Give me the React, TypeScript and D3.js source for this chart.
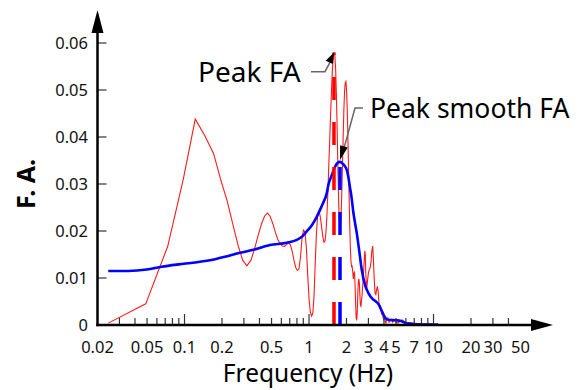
import React from "react";
import * as d3 from "d3";

// ---- data ----
const faFreq = [0.0244,0.0488,0.0732,0.0977,0.122,0.146,0.171,0.195,0.22,0.244,0.269,0.293,0.317,0.342,0.366,0.39,0.415,0.44,0.464,0.488,0.513,0.537,0.562,0.586,0.61,0.635,0.659,0.684,0.708,0.732,0.757,0.781,0.806,0.83,0.855,0.879,0.903,0.928,0.952,0.977,1.001,1.025,1.05,1.074,1.099,1.123,1.147,1.172,1.196,1.221,1.245,1.27,1.294,1.318,1.343,1.367,1.392,1.416,1.44,1.465,1.489,1.514,1.538,1.562,1.587,1.611,1.636,1.66,1.685,1.709,1.733,1.758,1.782,1.807,1.831,1.855,1.88,1.904,1.929,1.953,1.978,2.002,2.026,2.051,2.075,2.1,2.124,2.148,2.173,2.197,2.222,2.246,2.271,2.295,2.32,2.344,2.368,2.393,2.417,2.442,2.466,2.49,2.515,2.539,2.564,2.588,2.612,2.661,2.71,2.759,2.808,2.832,2.856,2.905,2.954,3.003,3.052,3.1,3.149,3.198,3.247,3.296,3.344,3.393,3.442,3.491,3.54,3.589,3.638,3.687,3.735,3.784,3.833,3.882,3.93,3.98,4.03,4.08,4.15,4.2,4.3,4.4,4.5,4.6,4.7,4.8,4.9,5.0,5.2,5.4,5.6,5.8,6.0,6.5,7.0,8.0,9.0,10.0];
const faValue = [0.0004,0.0045,0.0167,0.031,0.0438,0.0402,0.0365,0.031,0.0264,0.0215,0.017,0.0138,0.0126,0.0138,0.0163,0.019,0.0215,0.0232,0.0238,0.0231,0.0215,0.0197,0.0182,0.0173,0.0168,0.0167,0.0171,0.0175,0.0171,0.0157,0.0138,0.0123,0.0116,0.0119,0.0145,0.0185,0.0202,0.0198,0.0165,0.0105,0.0055,0.0027,0.0019,0.0026,0.0065,0.0135,0.0195,0.0232,0.0241,0.0236,0.0222,0.0203,0.0186,0.0176,0.0178,0.0196,0.0232,0.028,0.0335,0.039,0.0445,0.0495,0.0538,0.0568,0.058,0.0575,0.0545,0.0488,0.041,0.0325,0.0255,0.0215,0.0205,0.0228,0.0275,0.0335,0.0398,0.0455,0.0495,0.0515,0.0518,0.05,0.0462,0.0405,0.0338,0.0272,0.0212,0.0165,0.0135,0.0124,0.0125,0.0112,0.0098,0.011,0.0112,0.0085,0.0045,0.0015,0.001,0.003,0.0068,0.0092,0.0098,0.0088,0.0062,0.0042,0.004,0.006,0.009,0.0125,0.0158,0.015,0.011,0.0078,0.0095,0.0112,0.0118,0.0122,0.0135,0.0158,0.0168,0.0135,0.0095,0.0068,0.0065,0.0075,0.0082,0.0072,0.005,0.0036,0.0042,0.0035,0.0022,0.0028,0.0016,0.0012,0.0019,0.0009,0.0004,0.0011,0.0015,0.0006,0.001,0.0012,0.0006,0.0009,0.0011,0.0005,0.0004,0.0009,0.0011,0.0006,0.0004,0.0005,0.0003,0.0002,0.0002,0.0001,0.0001];

const smoothFreq = [0.0244,0.0354,0.0497,0.0656,0.09,0.121,0.176,0.211,0.263,0.357,0.486,0.662,0.797,0.88,0.958,1.04,1.117,1.226,1.3,1.387,1.43,1.52,1.62,1.7,1.774,1.85,1.93,2.01,2.07,2.13,2.2,2.27,2.35,2.42,2.54,2.65,2.82,3.0,3.25,3.45,3.6,3.84,4.08,4.33,5.0,5.4,5.9,6.88,8.0,10.9];
const smoothValue = [0.0115,0.0115,0.0118,0.0124,0.0129,0.0133,0.014,0.0145,0.0152,0.016,0.017,0.0175,0.0181,0.0188,0.0199,0.021,0.0223,0.0245,0.026,0.028,0.0298,0.0318,0.0337,0.0345,0.0347,0.0344,0.0339,0.033,0.0315,0.0294,0.027,0.024,0.0215,0.0195,0.0155,0.0118,0.0085,0.0068,0.0055,0.005,0.0045,0.003,0.0016,0.0011,0.001,0.0009,0.0005,0.0002,0.0001,0.0001];

const xTickLabels = [0.02, 0.05, 0.1, 0.2, 0.5, 1, 2, 3, 4, 5, 7, 10, 20, 30, 50];
const xMajorTicks = [0.1, 1, 10];
const xMinorTicks = [0.03,0.04,0.05,0.06,0.07,0.08,0.09,0.2,0.3,0.4,0.5,0.6,0.7,0.8,0.9,2,3,4,5,6,7,8,9,20,30,40];
const yTicks = [0, 0.01, 0.02, 0.03, 0.04, 0.05, 0.06];

const FONT = "'Noto Sans', 'DejaVu Sans', sans-serif";

export default function App() {
  const W = 582, H = 390;
  const x = d3.scaleLog().domain([0.02, 100]).range([97.5, 558]);
  const y = d3.scaleLinear().domain([0, 0.06]).range([325, 43]);

  const fa = faFreq.map((f, i) => [f, faValue[i]] as [number, number]);
  const sm = smoothFreq.map((f, i) => [f, smoothValue[i]] as [number, number]);

  const faLine = d3.line<[number, number]>().x(d => x(d[0])).y(d => y(d[1]));
  const smLine = d3.line<[number, number]>().x(d => x(d[0])).y(d => y(d[1])).curve(d3.curveMonotoneX);

  const faPeak = fa.reduce((a, b) => (b[1] > a[1] ? b : a));
  const smPeak = sm.reduce((a, b) => (b[1] > a[1] ? b : a));

  const x0 = x(0.02);
  const y0 = y(0);
  const axisEnd = 553;
  const axisTop = 10;

  const arrowHead = (fromX: number, fromY: number, tipX: number, tipY: number, len: number, half: number) => {
    const dx = tipX - fromX, dy = tipY - fromY;
    const L = Math.hypot(dx, dy);
    const ux = dx / L, uy = dy / L;
    const bx = tipX - ux * len, by = tipY - uy * len;
    const px = -uy, py = ux;
    return `M${tipX},${tipY}L${bx + px * half},${by + py * half}L${bx - px * half},${by - py * half}Z`;
  };

  const pfX = x(faPeak[0]), pfY = y(faPeak[1]);
  const psX = x(smPeak[0]), psY = y(smPeak[1]);

  const fmtY = (v: number) => (v === 0 ? "0" : v.toFixed(2));
  const fmtX = (v: number) => String(v);

  return (
    <svg width={W} height={H} style={{ position: "absolute", left: 0, top: 0, background: "#fff" }} fontFamily={FONT}>
      <rect width={W} height={H} fill="#fff" />
      {/* curves */}
      <path d={faLine(fa) || ""} fill="none" stroke="#ff1a1a" strokeWidth={1.1} />
      <path d={smLine(sm) || ""} fill="none" stroke="#0000ff" strokeWidth={2.6} />
      {/* peak dashed lines */}
      <line x1={pfX} x2={pfX} y1={y0} y2={pfY} stroke="#ff0000" strokeWidth={3.5} strokeDasharray="23 22" />
      <line x1={psX} x2={psX} y1={y0} y2={psY} stroke="#0000ff" strokeWidth={3.5} strokeDasharray="23 22" />

      {/* y ticks */}
      {yTicks.filter(t => t > 0).map(t => (
        <line key={"yt" + t} x1={x0} x2={x0 + 9} y1={y(t)} y2={y(t)} stroke="#333" strokeWidth={1.2} />
      ))}
      {yTicks.map(t => (
        <text key={"yl" + t} x={88} y={y(t) + 6} textAnchor="end" fontSize={16.5} fill="#111">{fmtY(t)}</text>
      ))}
      {/* x ticks */}
      {xMinorTicks.map(t => (
        <line key={"xm" + t} x1={x(t)} x2={x(t)} y1={y0} y2={y0 - 7} stroke="#333" strokeWidth={1.2} />
      ))}
      {xMajorTicks.map(t => (
        <line key={"xM" + t} x1={x(t)} x2={x(t)} y1={y0} y2={y0 - 11} stroke="#333" strokeWidth={1.2} />
      ))}
      {xTickLabels.map(t => (
        <text key={"xl" + t} x={x(t)} y={353} textAnchor="middle" fontSize={16.5} fill="#111">{fmtX(t)}</text>
      ))}

      {/* axes */}
      <line x1={x0} x2={x0} y1={y0 + 1.2} y2={axisTop + 20} stroke="#000" strokeWidth={2.5} />
      <path d={`M${x0},${axisTop}L${x0 - 6},${axisTop + 23}L${x0 + 6},${axisTop + 23}Z`} fill="#000" />
      <line x1={x0 - 1.2} x2={axisEnd - 20} y1={y0} y2={y0} stroke="#000" strokeWidth={2.5} />
      <path d={`M${axisEnd},${y0}L${axisEnd - 22},${y0 - 6}L${axisEnd - 22},${y0 + 6}Z`} fill="#000" />

      {/* axis titles */}
      <text x={308} y={382} textAnchor="middle" fontSize={24.5} fill="#000">Frequency (Hz)</text>
      <text transform={`translate(35,184) rotate(-90)`} textAnchor="middle" fontSize={25} fontWeight="bold" fill="#000">F. A.</text>

      {/* annotations */}
      <text x={198} y={82} fontSize={28} fill="#000">Peak FA</text>
      <polyline points={`311,71.7 325,71.7 ${pfX - 3},${pfY + 8}`} fill="none" stroke="#666" strokeWidth={1.5} />
      <path d={arrowHead(325, 71.7, pfX, pfY, 11, 4)} fill="#000" />

      <text x={370} y={118} fontSize={26.5} fill="#000">Peak smooth FA</text>
      <polyline points={`363,108 355,108 ${psX + 3},${psY - 10}`} fill="none" stroke="#666" strokeWidth={1.5} />
      <path d={arrowHead(355, 108, psX, psY - 2, 14, 4)} fill="#000" />
    </svg>
  );
}
